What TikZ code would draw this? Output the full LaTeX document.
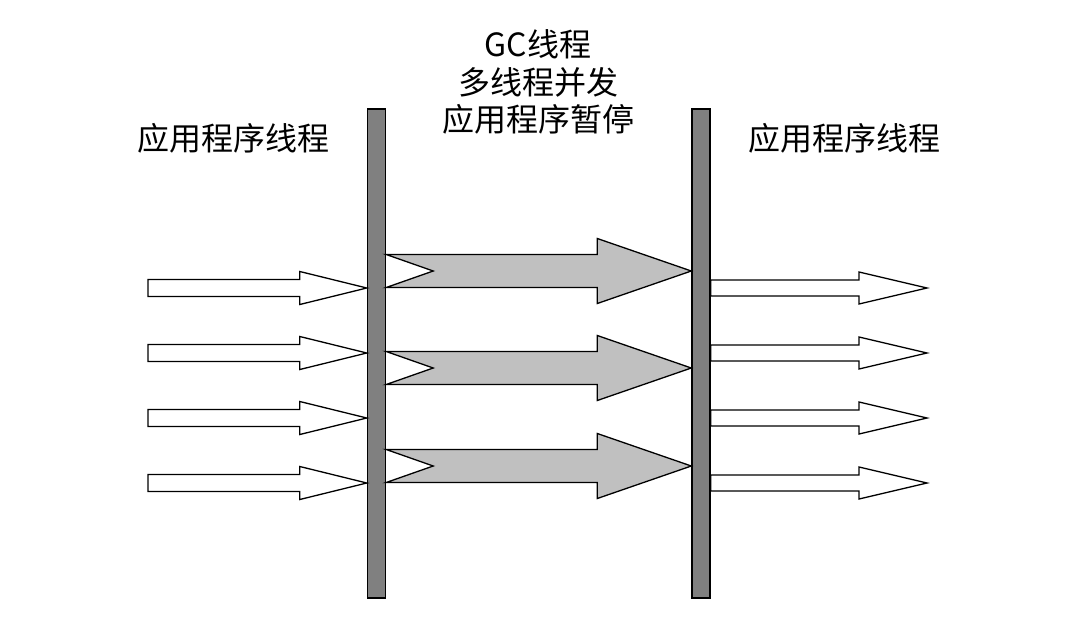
\documentclass[tikz,border=0pt]{standalone}
\usepackage{fontspec}
\setmainfont{Noto Sans CJK SC}
\usetikzlibrary{calc}
\definecolor{bargray}{HTML}{808080}
\definecolor{arrowgray}{HTML}{C0C0C0}

% block arrow: style, from, to, shaft half width, head half width, head length, notch depth
\newcommand\blockarrow[7]{%
  \draw[#1] let \p1=(#2), \p2=(#3) in
    (\x1,\y1+#4) -- (\x2-#6,\y1+#4) -- (\x2-#6,\y1+#5) -- (\x2,\y1)
    -- (\x2-#6,\y1-#5) -- (\x2-#6,\y1-#4) -- (\x1,\y1-#4) -- (\x1+#7,\y1) -- cycle;}

\begin{document}
\begin{tikzpicture}[x=1pt, y=-1pt,
    bar/.style={draw=black, fill=bargray, line width=1.4pt, inner sep=0pt,
      minimum width=18pt, minimum height=489pt},
    whitearrow/.style={draw=black, fill=white, line width=1.3pt, line join=miter},
    grayarrow/.style={draw=black, fill=arrowgray, line width=1.3pt, line join=miter},
    label/.style={font=\fontsize{32}{37.5}\selectfont, inner sep=0pt, align=center}
  ]
  \useasboundingbox (0,0) rectangle (1069,619);
  % labels
  \node[label] (appL) at (233,138) {应用程序线程};
  \node[label] (appR) at (844,138) {应用程序线程};
  \node[label] (gc) at (538,82) {GC线程\\多线程并发\\应用程序暂停};
  % the two pauses
  \node[bar] (bar1) at (376.5,353.5) {};
  \node[bar] (bar2) at (701,353.5) {};
  % application threads before and after
  \foreach \y [count=\i] in {288,353,418,483} {
    \coordinate (in\i) at (148,\y);
    \coordinate (out\i) at (927,\y);
    \blockarrow{whitearrow}{in\i}{bar1.west |- in\i}{8.5pt}{16.5pt}{67pt}{0pt}
    \blockarrow{whitearrow}{bar2.east |- out\i}{out\i}{8pt}{16pt}{68pt}{0pt}
  }
  % GC threads
  \foreach \y [count=\i] in {271,368,466} {
    \coordinate (gc\i) at (bar1.east |- 0,\y);
    \blockarrow{grayarrow}{gc\i}{bar2.west |- gc\i}{16.5pt}{32.5pt}{94pt}{47pt}
  }
\end{tikzpicture}
\end{document}
